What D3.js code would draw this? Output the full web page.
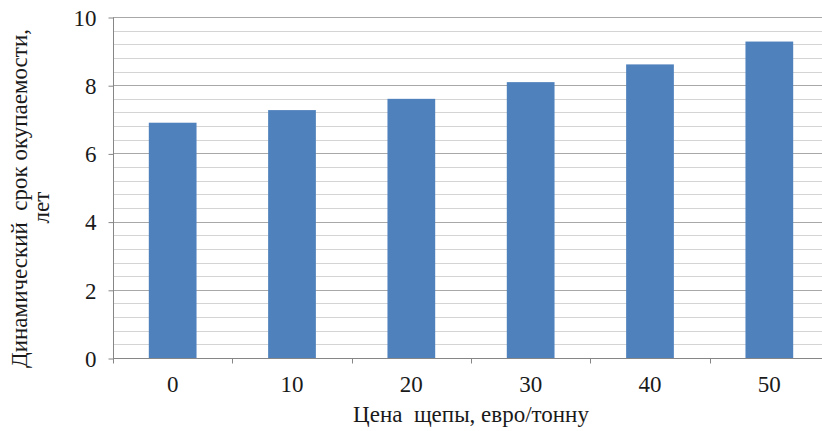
<!DOCTYPE html>
<html>
<head>
<meta charset="utf-8">
<script src="https://cdn.jsdelivr.net/npm/d3@7"></script>
</head>
<body style="margin:0">
<svg id="chart" width="822" height="431" style="display:block"></svg>
<script>
// Chip price (EUR per tonne) and resulting discounted payback period (years)
const categories = ["0", "10", "20", "30", "40", "50"];
const payback = [6.9, 7.27, 7.6, 8.09, 8.61, 9.28];
const yTicks = [0, 2, 4, 6, 8, 10];
const yMinorStep = 0.4;
const yTitleLines = ["Динамический  срок окупаемости,", "лет"];
const xTitle = "Цена  щепы, евро/тонну";

const svg = d3.select("#chart");
const plotLeft = 113, plotRight = 829, plotTop = 17, plotBottom = 358;
const serifStack = "'Liberation Serif', 'Times New Roman', Tinos, serif";
const fontSize = 23;
const textColor = "#1a1a1a";

const x = d3.scaleBand().domain(categories).range([plotLeft, plotRight]).paddingInner(0.6).paddingOuter(0.3);
const xEdges = d3.scaleBand().domain(categories).range([plotLeft, plotRight]);
const y = d3.scaleLinear().domain([0, 10]).range([plotBottom, plotTop]);

// minor gridlines
const minor = d3.range(0, 10 + 1e-9, yMinorStep).filter(v => Math.abs(v / 2 - Math.round(v / 2)) > 1e-6);
svg.append("g").selectAll("line").data(minor).join("line")
  .attr("x1", plotLeft).attr("x2", plotRight)
  .attr("y1", d => Math.round(y(d)) + 0.5).attr("y2", d => Math.round(y(d)) + 0.5)
  .attr("stroke", "#d4d4d4").attr("stroke-width", 1);

// major gridlines
svg.append("g").selectAll("line").data(yTicks.filter(d => d > 0)).join("line")
  .attr("x1", plotLeft).attr("x2", plotRight)
  .attr("y1", d => Math.round(y(d)) + 0.5).attr("y2", d => Math.round(y(d)) + 0.5)
  .attr("stroke", "#a8a8a8").attr("stroke-width", 1);

// bars
svg.append("g").selectAll("rect").data(payback).join("rect")
  .attr("x", (d, i) => x(categories[i]))
  .attr("width", x.bandwidth())
  .attr("y", d => y(d))
  .attr("height", d => y(0) - y(d))
  .attr("fill", "#4f81bd");

// y axis
const yAxis = d3.axisLeft(y).tickValues(yTicks).tickSize(5).tickPadding(12).tickFormat(d3.format("d"));
const gy = svg.append("g").attr("transform", `translate(${plotLeft + 0.5},0.5)`).call(yAxis);
gy.attr("font-family", null).attr("font-size", null);
gy.select(".domain").attr("stroke", "#868686").attr("d", `M0,${plotTop}V${plotBottom + 5}`);
gy.selectAll(".tick line").attr("stroke", "#868686");
gy.selectAll(".tick text").attr("fill", textColor).attr("dy", "0.34em");

// x axis
const gx = svg.append("g").attr("transform", `translate(0,${Math.round(y(0)) + 0.5})`);
gx.append("line").attr("x1", plotLeft).attr("x2", plotRight).attr("stroke", "#868686");
gx.selectAll("line.edge").data(categories.slice(1)).join("line").attr("class", "edge")
  .attr("x1", d => Math.round(xEdges(d)) + 0.5).attr("x2", d => Math.round(xEdges(d)) + 0.5)
  .attr("y1", 0).attr("y2", 5).attr("stroke", "#868686");
gx.selectAll("text").data(categories).join("text")
  .attr("x", d => x(d) + x.bandwidth() / 2)
  .attr("y", 33)
  .attr("text-anchor", "middle")
  .attr("fill", textColor)
  .text(d => d);

// axis titles
svg.append("text")
  .attr("x", (plotLeft + plotRight) / 2)
  .attr("y", 422)
  .attr("text-anchor", "middle")
  .attr("fill", textColor)
  .style("white-space", "pre")
  .text(xTitle);

const yt = svg.append("text")
  .attr("transform", `translate(0,${(plotTop + plotBottom) / 2 + 11}) rotate(-90)`)
  .attr("text-anchor", "middle")
  .attr("fill", textColor)
  .style("white-space", "pre");
yt.append("tspan").attr("x", 0).attr("y", 27).text(yTitleLines[0]);
yt.append("tspan").attr("x", -9).attr("y", 49).text(yTitleLines[1]);

// one serif face for every label
svg.selectAll("text")
  .style("font-family", serifStack)
  .style("font-size", fontSize + "px");
</script>
</body>
</html>
